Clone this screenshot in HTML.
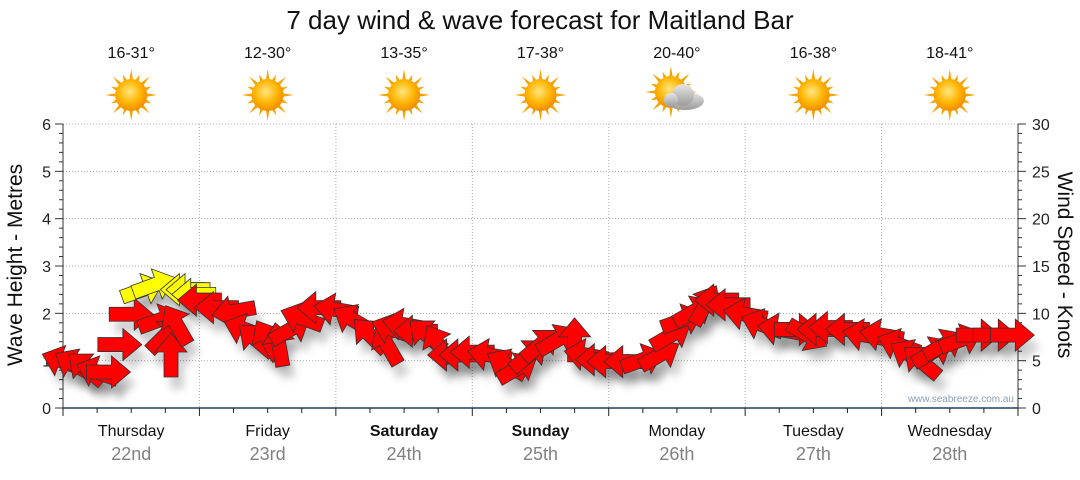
<!DOCTYPE html>
<html><head><meta charset="utf-8"><style>
body{margin:0;background:#fff;width:1080px;height:475px;overflow:hidden;font-family:"Liberation Sans",sans-serif}
</style></head><body>
<svg id="chart" width="1080" height="475" xmlns="http://www.w3.org/2000/svg" font-family="Liberation Sans, DejaVu Sans, sans-serif">
<defs>
<filter id="sh" x="-50%" y="-50%" width="200%" height="200%"><feGaussianBlur stdDeviation="4"/></filter>
<radialGradient id="sun" cx="45%" cy="40%" r="60%"><stop offset="0" stop-color="#ffe680"/><stop offset="0.6" stop-color="#ffb400"/><stop offset="1" stop-color="#f08c00"/></radialGradient>
<linearGradient id="cloud" x1="0" y1="0" x2="0" y2="1"><stop offset="0" stop-color="#e6e6e6"/><stop offset="1" stop-color="#9a9a9a"/></linearGradient>
</defs>
<text x="540" y="29" text-anchor="middle" font-size="26" fill="#111">7 day wind &amp; wave forecast for Maitland Bar</text>
<g id="grid"></g><g id="axes"></g><g id="icons"></g><g id="shadows"></g><g id="arrows"></g>
<text transform="translate(22,265) rotate(-90)" text-anchor="middle" font-size="21" fill="#111">Wave Height - Metres</text>
<text transform="translate(1058,265) rotate(90)" text-anchor="middle" font-size="21" fill="#111">Wind Speed - Knots</text>
<text x="1014" y="402" text-anchor="end" font-size="10" fill="#8aa0b8">www.seabreeze.com.au</text>
</svg>
<script>
const days=["Thursday","Friday","Saturday","Sunday","Monday","Tuesday","Wednesday"];
const dates=["22nd","23rd","24th","25th","26th","27th","28th"];
const temps=["16-31°","12-30°","13-35°","17-38°","20-40°","16-38°","18-41°"];
const icons=["sun","sun","sun","sun","cloud","sun","sun"];
const leftTicks=[0,1,2,3,4,5,6];
const rightTicks=[0,5,10,15,20,25,30];
const hours=[0,2,4,6,8,10,12,14,16,17,18,19,20,21,22,23,
24,27,30,32,34,36,38,40,42,45,
48,51,54,57,58,60,62,64,66,68,70,
72,75,78,80,82,84,87,90,92,94,
96,99,102,105,107,109,111,113,115,117,
120,123,126,129,131,133,135,138,141,
144,147,149,151,153,155,158,161,164,167];
const knots=[4.9,4.6,4.2,3.8,3.8,6.7,9.9,12.5,13.0,9.3,7.7,5.6,8.8,12.5,12.5,12.0,
11.4,10.6,10.2,8.3,7.2,7.2,6.7,8.3,9.5,10.6,
10.4,9.3,7.7,6.7,8.3,8.8,8.1,7.7,6.7,5.6,5.6,
5.9,5.6,4.6,4.2,5.6,6.7,7.2,7.2,5.6,5.1,
4.9,4.9,5.1,5.6,7.7,9.3,10.2,10.9,11.4,10.9,
9.9,8.8,8.3,8.3,7.7,8.3,8.5,8.3,7.7,
7.7,6.7,5.6,4.9,5.9,6.7,7.2,7.7,7.7,7.7];
const angles=[200,210,220,200,0,0,0,-20,-20,-20,-45,-90,-120,180,180,180,
180,180,170,200,220,240,260,-30,200,180,
190,210,225,240,200,190,180,220,240,180,180,
180,190,210,-30,-40,-40,-30,-90,190,180,
180,180,-20,-30,-30,-20,-30,-60,180,180,
190,200,190,0,30,180,180,180,190,
190,200,210,220,-30,-30,-20,0,0,0];
const yellow=[7,8,13,14,15];

const NS="http://www.w3.org/2000/svg";
const X0=63,X1=1018,Y0=408,YT=124;
const xH=h=>X0+h*(X1-X0)/168;
const yM=m=>Y0-m*(Y0-YT)/6;
const yK=k=>Y0-k*(Y0-YT)/30;
function mk(p,tag,at){const e=document.createElementNS(NS,tag);for(const k in at)e.setAttribute(k,at[k]);p.appendChild(e);return e;}
const G=document.getElementById('grid'),A=document.getElementById('axes'),I=document.getElementById('icons');
leftTicks.forEach(m=>{
 if(m>0){const l=mk(G,'line',{x1:X0,x2:X1,y1:yM(m),y2:yM(m),stroke:'#aaa','stroke-dasharray':'1,2'});
 
 }
 const t=mk(A,'text',{x:X0-12,y:yM(m)+6,'text-anchor':'end','font-size':16,fill:'#222'});t.textContent=m;
 
 
});
for(let i=0;i<=30;i++){const y=yK(i);mk(A,'line',{x1:X0-(i%5?4:8),x2:X0,y1:y,y2:y,stroke:'#333'});mk(A,'line',{x1:X1,x2:X1+(i%5?4:8),y1:y,y2:y,stroke:'#333'});}
rightTicks.forEach(k=>{const t=mk(A,'text',{x:X1+14,y:yK(k)+6,'font-size':16,fill:'#222'});t.textContent=k;
 
 });
mk(A,'line',{x1:X0,x2:X0,y1:YT,y2:Y0,stroke:'#333'});
mk(A,'line',{x1:X1,x2:X1,y1:YT,y2:Y0,stroke:'#333'});
mk(A,'line',{x1:X0,x2:X1,y1:Y0,y2:Y0,stroke:'#1f3f66','stroke-width':1.5});
for(let d=0;d<=7;d++){const x=xH(d*24);
 if(d>0&&d<7)mk(G,'line',{x1:x,x2:x,y1:YT,y2:Y0,stroke:'#aaa','stroke-dasharray':'1,2'});
 mk(A,'line',{x1:x,x2:x,y1:Y0,y2:Y0+8,stroke:'#222'});
 if(d<7){for(let q=1;q<4;q++){const xm=xH(d*24+q*6);mk(A,'line',{x1:xm,x2:xm,y1:Y0,y2:Y0+5,stroke:'#222'});}
  const cx=xH(d*24+12);
  const dl=mk(A,'text',{x:cx,y:436,'text-anchor':'middle','font-size':16,fill:'#111','font-weight':(d==2||d==3)?'bold':'normal'});dl.textContent=days[d];
  
  
  const dt=mk(A,'text',{x:cx,y:460,'text-anchor':'middle','font-size':18,fill:'#808080'});dt.textContent=dates[d];
  
  
  const tt=mk(I,'text',{x:cx,y:58,'text-anchor':'middle','font-size':16,fill:'#111'});tt.textContent=temps[d];
  
  
  const g=mk(I,'g',{transform:`translate(${cx},95)`});
  
  
  const sx=icons[d]=='cloud'?-6:0,sy=icons[d]=='cloud'?-3:0;
  for(let r=0;r<16;r++){const a=r*Math.PI/8,L=r%2?22:26;
   mk(g,'polygon',{points:`${sx+Math.cos(a-0.12)*15},${sy+Math.sin(a-0.12)*15} ${sx+Math.cos(a)*L},${sy+Math.sin(a)*L} ${sx+Math.cos(a+0.12)*15},${sy+Math.sin(a+0.12)*15}`,fill:'#f5a300'});}
  mk(g,'circle',{cx:sx,cy:sy,r:16,fill:'url(#sun)'});
  if(icons[d]=='cloud'){mk(g,'ellipse',{cx:8,cy:6,rx:19,ry:9,fill:'url(#cloud)'});mk(g,'circle',{cx:6,cy:0,r:11,fill:'url(#cloud)'});mk(g,'circle',{cx:-6,cy:5,r:7,fill:'url(#cloud)'});}
 }
}
const S=document.getElementById('shadows'),AR=document.getElementById('arrows');
const shape="-22,-7 3,-7 3,-16 22,0 3,16 3,7 -22,7";
hours.forEach((h,i)=>{
 const x=xH(h),y=yK(knots[i]),a=angles[i];
 mk(S,'polygon',{points:shape,fill:'#000','fill-opacity':0.18,filter:'url(#sh)',transform:`translate(${x+6},${y+12}) rotate(${a})`});
 const p=mk(AR,'polygon',{points:shape,fill:yellow.includes(i)?'#ffff00':'#ff0000',stroke:'#333','stroke-width':0.8,transform:`translate(${x},${y}) rotate(${a})`});
 
 
});
</script>
</body></html>
